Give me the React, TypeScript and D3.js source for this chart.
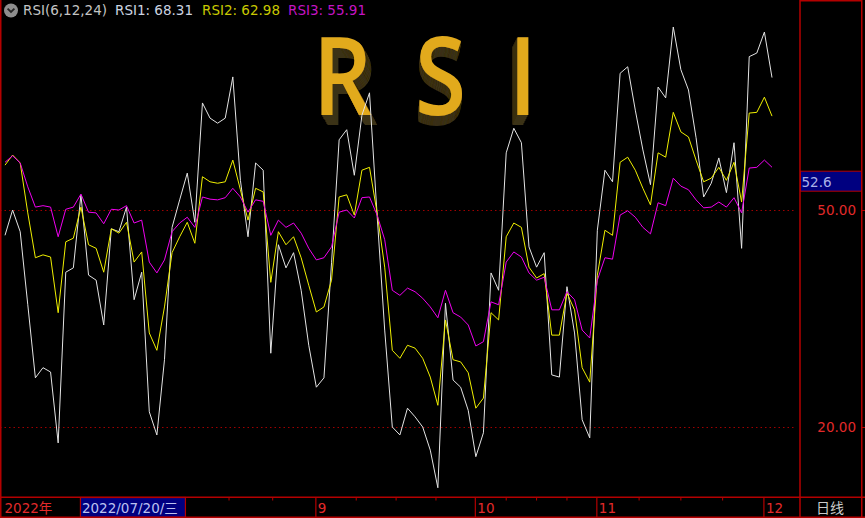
import React from "react";
import * as d3 from "d3";

// RSI(6,12,24) daily values, 2022-07-06 .. 2022-12-02
const rsi1 = [46.5, 50.0, 47.0, 36.9, 26.8, 28.2, 27.6, 17.8, 41.4, 42.0,
  52.1, 41.0, 40.3, 34.1, 47.4, 47.0, 50.4, 37.6, 41.4, 22.1,
  18.9, 29.3, 47.6, 51.4, 55.1, 48.3, 64.8, 62.7, 62.0, 62.7,
  68.4, 54.1, 46.3, 56.5, 55.5, 30.2, 45.2, 42.0, 44.1, 38.9,
  31.3, 25.5, 26.8, 42.7, 59.7, 61.1, 54.8, 63.1, 66.2, 49.3,
  33.4, 20.0, 18.9, 22.6, 21.4, 20.0, 16.8, 11.6, 37.1, 26.5,
  25.5, 22.3, 15.9, 19.2, 41.3, 38.9, 57.9, 61.3, 59.3, 44.9,
  42.1, 44.1, 27.2, 26.9, 39.4, 33.0, 21.0, 18.5, 47.2, 55.5,
  53.9, 68.9, 69.8, 63.8, 58.3, 53.5, 67.0, 65.5, 75.3, 69.4,
  66.6, 60.0, 51.8, 53.7, 57.2, 52.4, 59.3, 44.7, 71.2, 71.7,
  74.6, 68.31];

const rsi2 = [56.2, 57.6, 56.5, 49.6, 43.4, 43.8, 43.5, 35.8, 45.6, 46.1,
  50.4, 45.2, 44.7, 41.4, 47.4, 46.8, 48.3, 42.8, 44.2, 33.0,
  30.6, 36.6, 44.1, 46.3, 48.3, 45.4, 54.6, 53.9, 53.7, 53.9,
  56.9, 52.8, 48.6, 53.0, 52.5, 40.0, 47.0, 45.2, 46.3, 43.4,
  39.6, 35.9, 36.6, 40.3, 51.8, 52.1, 49.3, 55.5, 55.9, 49.6,
  42.1, 30.6, 29.5, 31.3, 30.9, 29.5, 26.9, 23.0, 34.8, 29.3,
  29.0, 27.5, 22.6, 24.0, 35.8, 34.8, 46.3, 48.2, 47.6, 42.1,
  40.6, 41.2, 32.7, 32.7, 38.5, 36.2, 28.2, 26.2, 41.0, 47.2,
  46.5, 56.6, 57.3, 55.5, 53.0, 50.7, 57.9, 57.3, 63.5, 60.8,
  60.1, 56.9, 53.9, 54.4, 55.9, 54.1, 56.6, 51.1, 63.4, 63.5,
  65.6, 62.98];

const rsi3 = [56.6, 57.5, 56.5, 53.2, 50.4, 50.6, 50.4, 46.3, 50.1, 50.4,
  52.2, 49.7, 49.6, 48.1, 50.1, 50.0, 50.6, 48.2, 48.6, 42.8,
  41.3, 43.1, 47.0, 48.2, 49.0, 47.6, 51.8, 51.5, 51.4, 51.7,
  53.0, 51.8, 49.7, 51.4, 51.2, 46.5, 48.6, 47.6, 48.2, 46.8,
  44.7, 43.1, 43.4, 44.9, 49.7, 50.0, 48.9, 51.7, 51.8, 49.3,
  45.9, 38.9, 38.2, 39.2, 38.7, 37.8, 36.6, 35.1, 38.9, 35.8,
  35.2, 34.1, 31.2, 31.8, 37.3, 36.9, 42.8, 44.2, 43.5, 41.3,
  40.3, 40.7, 36.2, 36.2, 38.7, 37.6, 33.4, 32.3, 40.3, 43.4,
  43.2, 49.3, 49.9, 49.0, 47.6, 46.7, 51.0, 50.6, 54.4, 53.3,
  52.8, 51.4, 50.3, 50.4, 51.1, 50.4, 51.7, 49.6, 55.8, 55.9,
  56.9, 55.91];

const yTicks = [50, 20];
// index of first trading day of each month shown (Aug..Dec)
const monthStartIdx = [18, 41, 62, 78, 100];
// August's label sits under the cursor date box, so it is not shown
const monthLabels = ["", "9", "10", "11", "12"];
const yearLabel = "2022年";
const cursorIdx = 10;
const cursorDate = "2022/07/20/三";
const cursorValue = 52.6;
const periodLabel = "日线";
const titleText = "RSI(6,12,24)";
const seriesNames = ["RSI1", "RSI2", "RSI3"];
const bigLetters = ["R", "S", "I"];

const W = 865;
const H = 518;
const PLOT_R = 800;
const PLOT_B = 497;
const RED = "#b40000";
const LABEL_RED = "#e22a2a";
const FONT = "'DejaVu Sans', 'Noto Sans CJK SC', sans-serif";

export default function App() {
  const n = rsi1.length;
  const x = d3.scaleLinear().domain([0, n - 1]).range([5, 772]);
  const y = d3.scaleLinear().domain([20, 50]).range([427, 210]);
  const line = d3
    .line<number>()
    .x((_, i) => x(i))
    .y((d) => y(d));

  const series = [
    { data: rsi1, color: "#e4e4e4" },
    { data: rsi2, color: "#f0f000" },
    { data: rsi3, color: "#f000f0" },
  ];
  const legendColors = ["#ccd4e0", "#c8c800", "#c414c4"];
  const legendX = [115, 202, 288];

  // quarter ticks inside each month
  const minorTicks: number[] = [];
  for (let m = 0; m < monthStartIdx.length - 1; m++) {
    const a = monthStartIdx[m];
    const b = monthStartIdx[m + 1];
    for (let k = 1; k <= 3; k++) minorTicks.push(a + ((b - a) * k) / 4);
  }

  // big 3D title letters: center x and extrusion dx
  const letterPos = [
    { cx: 342.5, dx: 7 },
    { cx: 440.5, dx: -1 },
    { cx: 523, dx: -6 },
  ];
  const steps = d3.range(1, 11);

  const cy = y(cursorValue);

  return (
    <svg
      width={W}
      height={H}
      style={{ position: "fixed", left: 0, top: 0, display: "block" }}
      fontFamily={FONT}
    >
      <defs>
        {letterPos.map((p, li) => (
          <filter key={li} id={`ext${li}`} x="-40%" y="-20%" width="180%" height="150%">
            <feFlood floodColor="#3a3016" result="c" />
            <feComposite in="c" in2="SourceAlpha" operator="in" result="s" />
            {steps.map((k) => (
              <feOffset key={k} in="s" dx={(p.dx * k) / 10} dy={k} result={`o${k}`} />
            ))}
            <feMerge>
              {steps
                .slice()
                .reverse()
                .map((k) => (
                  <feMergeNode key={k} in={`o${k}`} />
                ))}
              <feMergeNode in="SourceGraphic" />
            </feMerge>
          </filter>
        ))}
        <clipPath id="plotclip">
          <rect x={0} y={0} width={PLOT_R} height={PLOT_B} />
        </clipPath>
      </defs>

      <rect x={0} y={0} width={W} height={H} fill="#000" />

      {/* big 3D title */}
      <g fontFamily="'Open Sans', 'Noto Sans', sans-serif" fontWeight={600} fontSize={108}>
        {bigLetters.map((ch, li) => (
          <text
            key={ch + li}
            transform={`translate(${letterPos[li].cx},115) scale(0.86,1)`}
            textAnchor="middle"
            fill="#e2aa1e"
            filter={`url(#ext${li})`}
          >
            {ch}
          </text>
        ))}
      </g>

      {/* dotted reference lines */}
      {yTicks.map((t) => (
        <line
          key={t}
          x1={0}
          x2={796}
          y1={Math.round(y(t)) + 0.5}
          y2={Math.round(y(t)) + 0.5}
          stroke="#a00000"
          strokeWidth={1}
          strokeDasharray="1.5 3"
        />
      ))}

      {/* series */}
      <g clipPath="url(#plotclip)">
        {series.map((s, i) => (
          <path key={i} d={line(s.data) || ""} fill="none" stroke={s.color} strokeWidth={1} />
        ))}
      </g>

      {/* legend */}
      <circle cx={11} cy={10.5} r={7} fill="#8e8e8e" />
      <path d="M7.6,8.6 L11,12 L14.4,8.6" fill="none" stroke="#262626" strokeWidth={1.8} />
      <g fontSize={13.5}>
        <text x={23} y={15} fill="#c4c4c4">{titleText}</text>
        {series.map((s, i) => (
          <text key={i} x={legendX[i]} y={15} fill={legendColors[i]}>
            {`${seriesNames[i]}: ${s.data[s.data.length - 1].toFixed(2)}`}
          </text>
        ))}
      </g>

      {/* frame lines */}
      <line x1={0.75} x2={0.75} y1={0} y2={H} stroke={RED} strokeWidth={1.5} />
      <line x1={800} x2={800} y1={0} y2={H} stroke={RED} strokeWidth={1.5} />
      <line x1={861.75} x2={861.75} y1={0} y2={H} stroke={RED} strokeWidth={1.5} />
      <line x1={800} x2={862} y1={0.75} y2={0.75} stroke={RED} strokeWidth={1.5} />
      <line x1={0} x2={W} y1={497.25} y2={497.25} stroke={RED} strokeWidth={1.5} />
      <line x1={0} x2={W} y1={517.25} y2={517.25} stroke={RED} strokeWidth={1.5} />

      {/* right axis */}
      <g fontSize={13.5}>
        {yTicks.map((t) => (
          <g key={t}>
            <line x1={862} x2={866} y1={Math.round(y(t)) + 0.5} y2={Math.round(y(t)) + 0.5} stroke={RED} />
            <text x={856} y={y(t) + 5} textAnchor="end" fill={LABEL_RED}>
              {t.toFixed(2)}
            </text>
          </g>
        ))}
        <rect x={800.5} y={cy - 20} width={61} height={20} fill="#000080" stroke={RED} strokeWidth={1} />
        <text x={801.5} y={cy - 4.5} fill="#aab2e8">{cursorValue.toFixed(1)}</text>
      </g>

      {/* bottom axis */}
      <g fontSize={13.5}>
        {minorTicks.map((t) => (
          <line key={t} x1={x(t)} x2={x(t)} y1={497} y2={500.5} stroke={RED} strokeWidth={1} />
        ))}
        {monthStartIdx.map((m, i) => (
          <g key={m}>
            <line x1={x(m) - 0.5} x2={x(m) - 0.5} y1={497} y2={517} stroke={RED} strokeWidth={1.2} />
            {monthLabels[i] ? (
              <text x={x(m) + 1.5} y={513} fill={LABEL_RED}>{monthLabels[i]}</text>
            ) : null}
          </g>
        ))}
        <text x={4.5} y={513} fill={LABEL_RED}>{yearLabel}</text>
        <rect x={x(cursorIdx) - 0.5} y={497.5} width={105} height={19.5} fill="#000080" stroke={RED} strokeWidth={1.2} />
        <text x={x(cursorIdx) + 1} y={513} fill="#bcc2f0">{cursorDate}</text>
        <text x={816} y={513} fill="#cacaca" fontFamily="'Noto Sans CJK SC', sans-serif" fontSize={14}>
          {periodLabel}
        </text>
      </g>
    </svg>
  );
}
